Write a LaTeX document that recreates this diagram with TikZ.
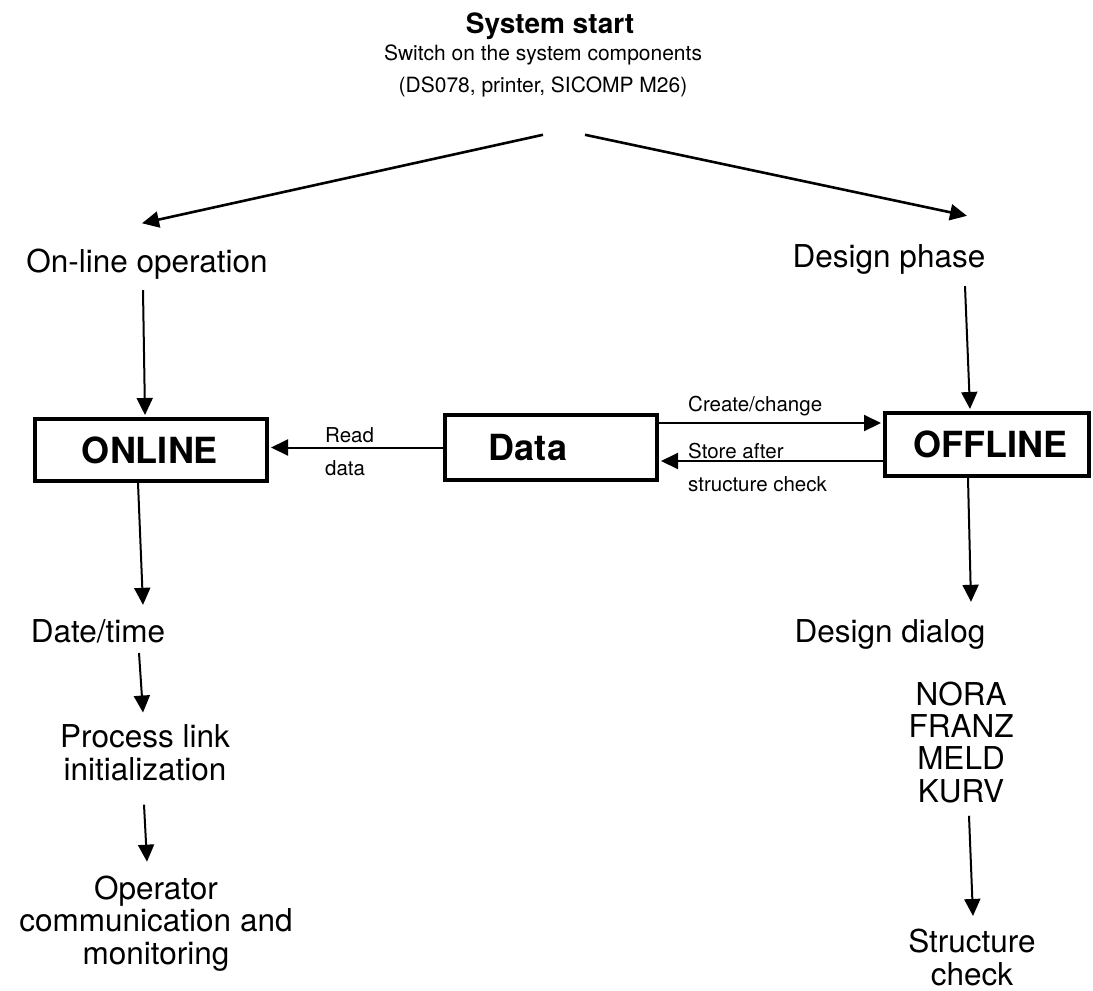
\documentclass[tikz,border=0pt]{standalone}
\usepackage{fontspec}
\setmainfont{TeX Gyre Heros}
\usetikzlibrary{arrows.meta,calc}

\begin{document}
\begin{tikzpicture}[x=1pt,y=-1pt,
  lbl/.style={inner sep=0pt, anchor=base, align=center,
              font=\fontsize{31.5}{32.3}\selectfont},
  note/.style={inner sep=0pt, anchor=base west, align=left,
               font=\fontsize{20.5}{33}\selectfont},
  box/.style={draw, line width=4pt, inner sep=0pt},
  boxtxt/.style={inner sep=0pt, font=\bfseries\fontsize{36}{36}\selectfont},
  arr/.style={line width=2pt, -{Triangle[length=17pt,width=16pt]}}
]
\useasboundingbox (0,0) rectangle (1093,991);

% heading (multi-line nodes sit on the baseline of their last line)
\node[inner sep=0pt, anchor=base, font=\bfseries\fontsize{28}{28}\selectfont]
  (title) at (550,33) {System start};
\node[inner sep=0pt, anchor=base, align=center, font=\fontsize{21}{32}\selectfont]
  (sub) at (543,92) {Switch on the system components\\(DS078, printer, SICOMP M26)};

% the two branches
\node[lbl] (onop) at (147,272) {On-line operation};
\node[lbl] (dphase) at (889,267) {Design phase};

\draw[arr, line width=2.6pt] ($(sub.south)+(0,38)$) -- ($(onop.north)+(-5,-25)$);
\draw[arr, line width=2.6pt] ($(sub.south)+(42,38)$) -- ($(dphase.north)+(78,-28)$);

% boxes
\node[box, minimum width=232pt, minimum height=62pt] (online) at (151,450) {};
\node[boxtxt] (onlinetxt) at (150,450) {ONLINE};
\node[box, minimum width=212pt, minimum height=65pt] (data) at (551,447.5) {};
\node[boxtxt] (datatxt) at (528,447.5) {Data};
\node[box, minimum width=204pt, minimum height=63pt] (offline) at (987,444.5) {};
\node[boxtxt] (offlinetxt) at (990,444.5) {OFFLINE};

\draw[arr] ($(onop.south)+(-4,11)$) -- ($(online.north)+(-6,-2)$);
\draw[arr] ($(dphase.south)+(76,12)$) -- ($(offline.north)+(-17,-2)$);

% data exchange
\draw[arr] (data.west) -- ($(data.west -| online.east)+(2,0)$);
\node[note] (readlbl) at (325,475) {Read\\data};
\draw[arr] ($(data.east)+(0,-24.5)$) -- ($(offline.west)+(-2,-21.5)$);
\node[note] (createlbl) at (688,411) {Create/change};
\draw[arr] ($(offline.west)+(0,16.5)$) -- ($(data.east)+(2,13.5)$);
\node[note] (storelbl) at (688,491) {Store after\\structure check};

% on-line sequence
\node[lbl] (dt) at (98,642) {Date/time};
\node[lbl] (proc) at (145,780) {Process link\\initialization};
\node[lbl] (oper) at (156,964) {Operator\\communication and\\monitoring};

\draw[arr] ($(online.south)+(-13,0)$) -- ($(dt.north)+(45,-14)$);
\draw[arr] ($(dt.base)+(41,11)$) -- ($(proc.north)+(-2,-12)$);
\draw[arr] ($(proc.south)+(-1,24)$) -- ($(oper.north)+(-9,-14)$);

% design sequence
\node[lbl] (ddialog) at (890,642) {Design dialog};
\node[lbl] (progs) at (961,802) {NORA\\FRANZ\\MELD\\KURV};
\node[lbl] (struct) at (972,985) {Structure\\check};

\draw[arr] ($(offline.south)+(-19,0)$) -- ($(ddialog.north)+(81,-17)$);
\draw[arr] ($(progs.south)+(8,13)$) -- ($(struct.north)+(1,-13)$);
\end{tikzpicture}
\end{document}
